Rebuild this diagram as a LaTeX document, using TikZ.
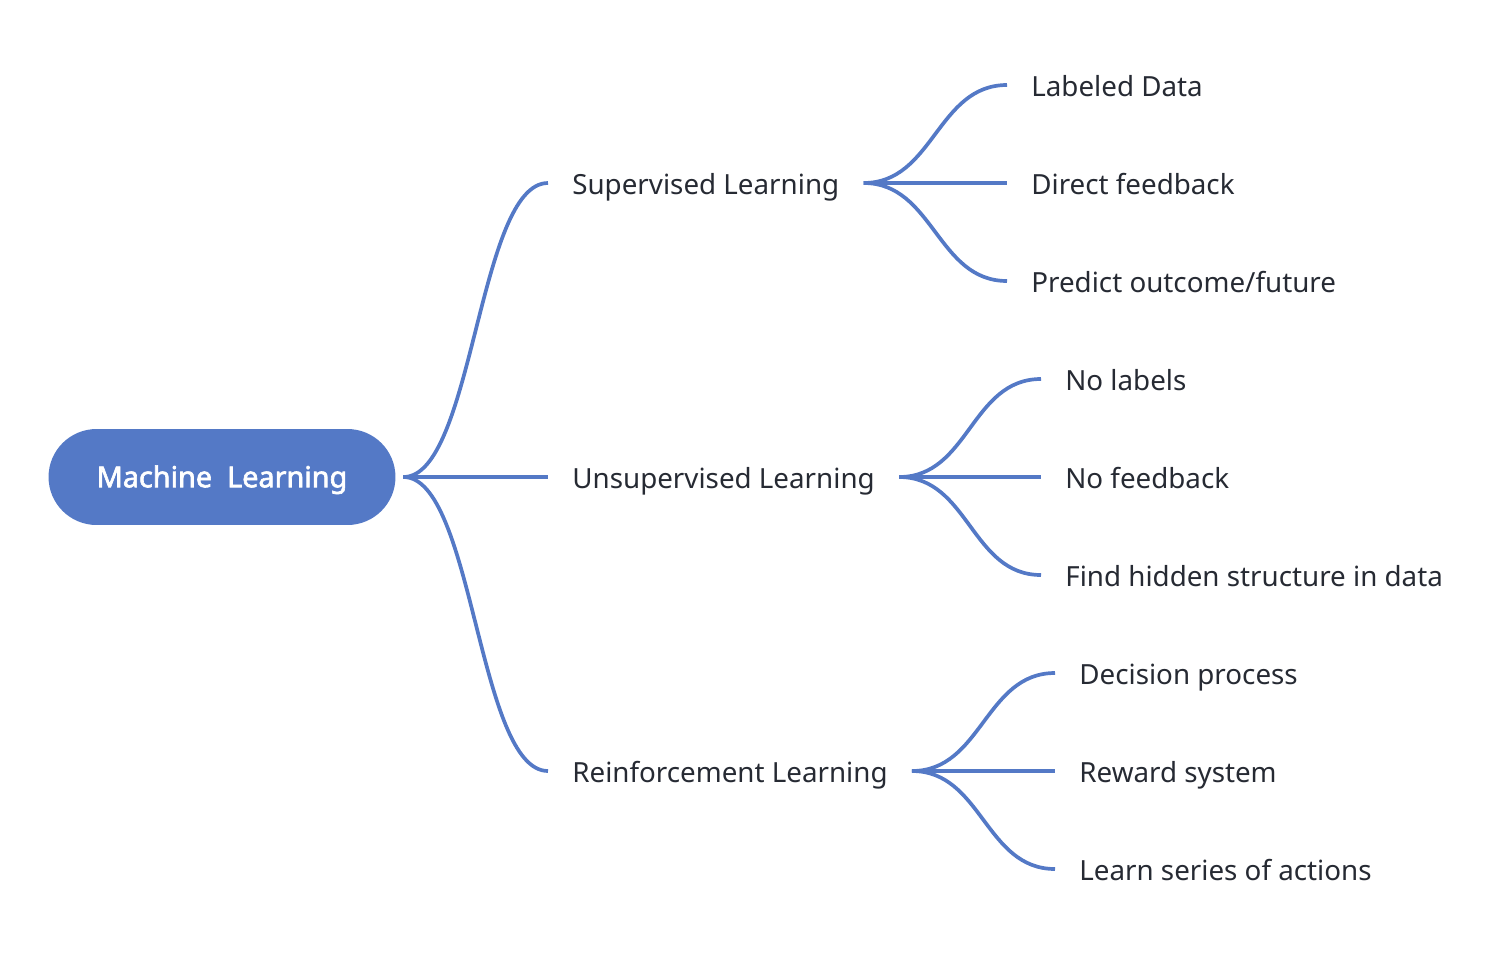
\documentclass[tikz,border=0pt]{standalone}
\usepackage{fontspec}
\setmainfont{Noto Sans}
\newfontfamily\rootfont{Noto Sans}[FakeBold=2.2]
\definecolor{mmblue}{HTML}{5479C6}
\definecolor{mmtext}{HTML}{262A33}
\tikzset{
  branch/.style={draw=mmblue,line width=2.1pt},
  topic/.style={text=mmtext,font=\fontsize{15.8}{19}\selectfont,anchor=west,
    inner xsep=0.48cm,inner ysep=0pt,text height=1.5em,text depth=0.236em},
  rootnode/.style={fill=mmblue,text=white,font=\rootfont\fontsize{16.4}{19}\selectfont,
    rounded corners=0.96cm,minimum width=6.94cm,minimum height=1.92cm,outer xsep=0.16cm,
    text height=1.4em,text depth=0.236em}
}
\begin{document}
\begin{tikzpicture}[x=0.02cm,y=-0.02cm]
  \useasboundingbox (0,0) rectangle (1508,954);
  \node[rootnode] (ml) at (222,477) {Machine\ \ Learning};

  \node[topic] (sl) at (548,183) {Supervised Learning};
  \node[topic] (ul) at (548,477) {Unsupervised Learning};
  \node[topic] (rl) at (548,771) {Reinforcement Learning};

  \node[topic] (s1) at (1007,85)  {Labeled Data};
  \node[topic] (s2) at (1007,183) {Direct feedback};
  \node[topic] (s3) at (1007,281) {Predict outcome/future};
  \node[topic] (u1) at (1041,379) {No labels};
  \node[topic] (u2) at (1041,477) {No feedback};
  \node[topic] (u3) at (1041,575) {Find hidden structure in data};
  \node[topic] (r1) at (1055,673) {Decision process};
  \node[topic] (r2) at (1055,771) {Reward system};
  \node[topic] (r3) at (1055,869) {Learn series of actions};

  \foreach \a/\b in {ml/sl,ml/ul,ml/rl,sl/s1,sl/s2,sl/s3,ul/u1,ul/u2,ul/u3,rl/r1,rl/r2,rl/r3}
    \draw[branch] (\a.east) .. controls +(70,0) and +(-70,0) .. (\b.west);
\end{tikzpicture}
\end{document}
